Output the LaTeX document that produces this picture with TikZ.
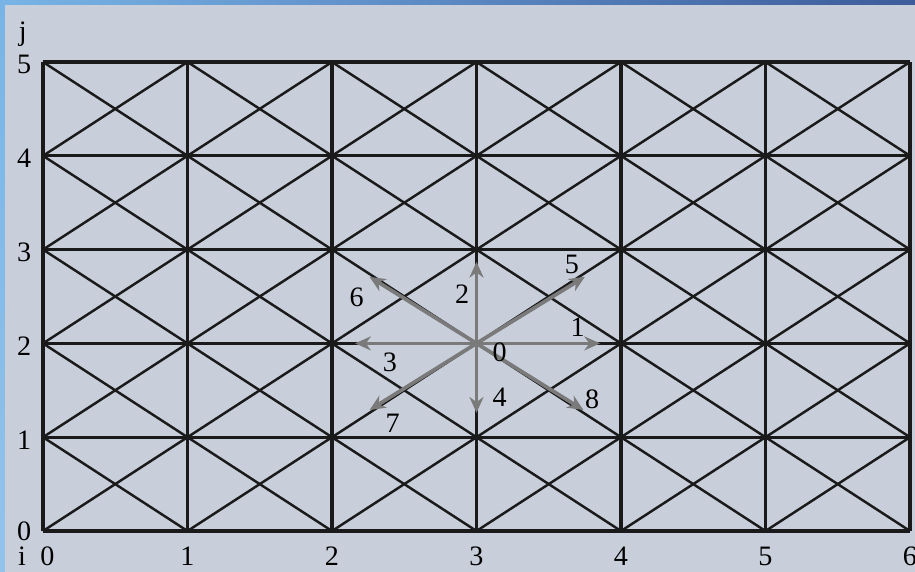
\documentclass[tikz,border=0pt]{standalone}
\usepackage{fontspec}
\setmainfont{Liberation Serif}
\usetikzlibrary{arrows.meta}

\definecolor{bgpanel}{HTML}{C8CFDB}
\definecolor{stripdark}{HTML}{3D5C9C}
\definecolor{striplight}{HTML}{78B4E6}
\definecolor{arrowgray}{HTML}{7A7A7A}
\definecolor{gridink}{HTML}{1A1A1A}

\tikzset{
  vline/.style={gridink, line width=2.2pt},
  hline/.style={gridink, line width=1.8pt},
  dline/.style={gridink, line width=1.4pt},
  dirarrow/.style={arrowgray, line width=2.1pt, -{Stealth[length=9pt,width=8pt]}},
  numlabel/.style={font=\fontsize{16}{18}\selectfont, inner sep=0pt}
}

\begin{document}
\begin{tikzpicture}[x=2.89cm, y=1.876cm]
    % Frame and background
    \useasboundingbox (-0.2976,-0.437) rectangle (6.0346,5.661);
    \fill[bgpanel] (-0.2976,-0.437) rectangle (6.0346,5.661);
    \shade[top color=striplight, bottom color=striplight!80!white] (-0.2976,-0.437) rectangle (-0.2630,5.661);
    \shade[left color=striplight, right color=stripdark] (-0.2976,5.608) rectangle (6.0346,5.661);

    % Diagonals of every cell
    \foreach \i in {0,...,5} {
      \foreach \j in {0,...,4} {
        \draw[dline] (\i,\j) -- ({\i+1},{\j+1});
        \draw[dline] (\i,{\j+1}) -- ({\i+1},\j);
      }
    }

    % Grid lines
    \foreach \j in {0,...,5}
      \draw[hline] (0,\j) -- (6,\j);
    \foreach \i in {0,...,6}
      \draw[vline] (\i,0) -- (\i,5);

    % Axis labels
    \foreach \j in {1,...,5}
      \node[numlabel] (j\j) at (-0.13,{\j-0.03}) {\j};
    \node[numlabel] (j0) at (-0.13,0.0) {0};
    \node[numlabel] (jaxis) at (-0.14,5.30) {j};
    \node[numlabel] (iaxis) at (-0.145,-0.27) {i};
    \node[numlabel] (i0) at (0.03,-0.27) {0};
    \foreach \i in {1,...,6}
      \node[numlabel] (i\i) at (\i,-0.27) {\i};

    % Lattice directions from the centre node
    \coordinate (O) at (3,2);
    \coordinate (e1) at (3.855,2);
    \coordinate (e2) at (3,2.87);
    \coordinate (e3) at (2.16,2);
    \coordinate (e4) at (3,1.26);
    \coordinate (e5) at (3.75,2.71);
    \coordinate (e6) at (2.26,2.71);
    \coordinate (e7) at (2.26,1.29);
    \coordinate (e8) at (3.74,1.29);
    \foreach \k in {1,...,8}
      \draw[dirarrow] (O) -- (e\k);

    % Direction numbers
    \node[numlabel] (n0) at (3.16,1.91) {0};
    \node[numlabel] (n1) at (3.70,2.175) {1};
    \node[numlabel] (n2) at (2.90,2.52) {2};
    \node[numlabel] (n3) at (2.40,1.80) {3};
    \node[numlabel] (n4) at (3.16,1.43) {4};
    \node[numlabel] (n5) at (3.66,2.84) {5};
    \node[numlabel] (n6) at (2.17,2.49) {6};
    \node[numlabel] (n7) at (2.42,1.15) {7};
    \node[numlabel] (n8) at (3.80,1.40) {8};
\end{tikzpicture}
\end{document}
